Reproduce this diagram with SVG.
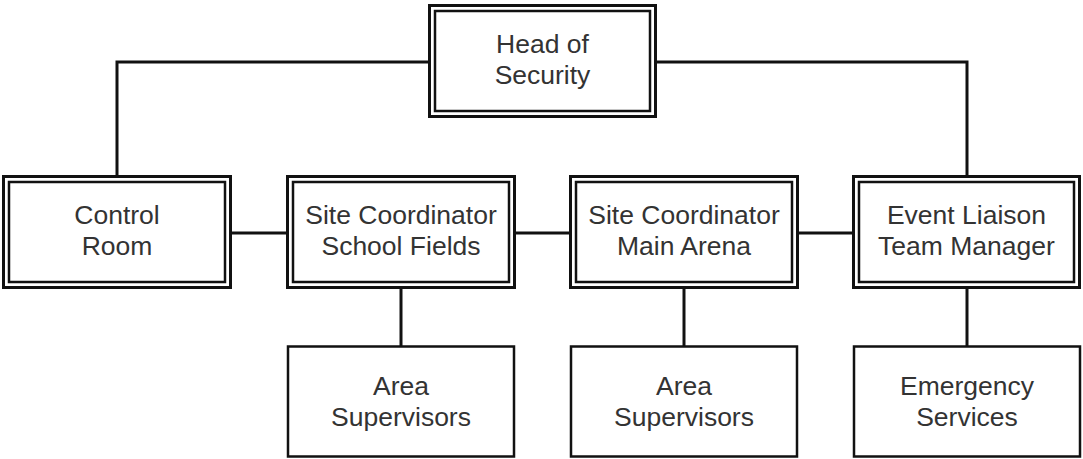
<svg xmlns="http://www.w3.org/2000/svg" width="1083" height="459" viewBox="0 0 1083 459">
<style>
.o{fill:#fff;stroke:#111;stroke-width:3}
.i{fill:none;stroke:#111;stroke-width:2.5}
.s{fill:#fff;stroke:#111;stroke-width:2.5}
.c{fill:none;stroke:#111;stroke-width:3}
text{font-family:"Liberation Sans",Arial,sans-serif;font-size:26.5px;fill:#333;text-anchor:middle}
</style>
<rect width="1083" height="459" fill="#fff"/>
<g id="connectors">
<polyline class="c" points="428,62 117,62 117,176"/>
<polyline class="c" points="657,62 967,62 967,176"/>
<line class="c" x1="232" y1="233" x2="288" y2="233"/>
<line class="c" x1="516" y1="233" x2="570" y2="233"/>
<line class="c" x1="798" y1="233" x2="852" y2="233"/>
<line class="c" x1="401" y1="289" x2="401" y2="346"/>
<line class="c" x1="684" y1="289" x2="684" y2="346"/>
<line class="c" x1="967" y1="289" x2="967" y2="346"/>
</g>
<g id="head">
<rect class="o" x="429.5" y="5.5" width="226" height="111"/>
<rect class="i" x="435" y="11" width="215" height="100"/>
<text x="542.5" y="53">Head of</text>
<text x="542.5" y="84">Security</text>
</g>
<g id="control">
<rect class="o" x="3.5" y="176.5" width="227" height="111"/>
<rect class="i" x="9" y="182" width="216" height="100"/>
<text x="117" y="224">Control</text>
<text x="117" y="255">Room</text>
</g>
<g id="school">
<rect class="o" x="287.5" y="176.5" width="227" height="111"/>
<rect class="i" x="293" y="182" width="216" height="100"/>
<text x="401" y="224">Site Coordinator</text>
<text x="401" y="255">School Fields</text>
</g>
<g id="arena">
<rect class="o" x="570.5" y="176.5" width="227" height="111"/>
<rect class="i" x="576" y="182" width="216" height="100"/>
<text x="684" y="224">Site Coordinator</text>
<text x="684" y="255">Main Arena</text>
</g>
<g id="liaison">
<rect class="o" x="853.5" y="176.5" width="226" height="111"/>
<rect class="i" x="859" y="182" width="215" height="100"/>
<text x="966.5" y="224">Event Liaison</text>
<text x="966.5" y="255">Team Manager</text>
</g>
<g id="area1">
<rect class="s" x="288" y="346.5" width="226" height="110"/>
<text x="401" y="395">Area</text>
<text x="401" y="426">Supervisors</text>
</g>
<g id="area2">
<rect class="s" x="571" y="346.5" width="226" height="110"/>
<text x="684" y="395">Area</text>
<text x="684" y="426">Supervisors</text>
</g>
<g id="emergency">
<rect class="s" x="854" y="346.5" width="226" height="110"/>
<text x="967" y="395">Emergency</text>
<text x="967" y="426">Services</text>
</g>
</svg>
